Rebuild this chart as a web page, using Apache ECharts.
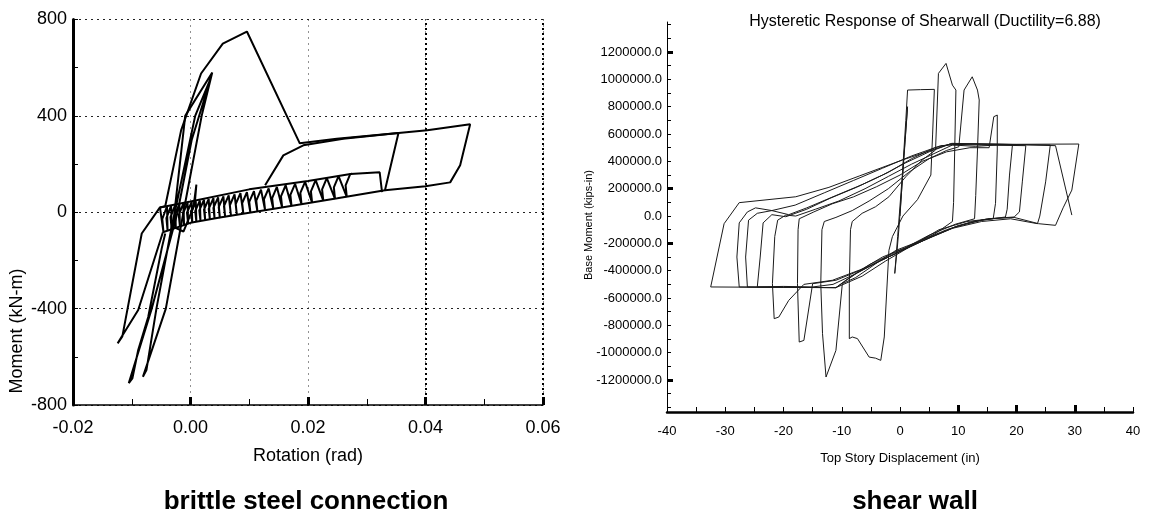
<!DOCTYPE html>
<html><head><meta charset="utf-8">
<script src="https://cdn.jsdelivr.net/npm/echarts@6/dist/echarts.min.js"></script>
<style>html,body{margin:0;padding:0;background:#fff}#c{width:1150px;height:526px}</style>
</head><body><div id="c"></div>
<script>
const FONT = 'Liberation Sans, Arial, sans-serif';

// ---------- Left chart: brittle steel connection (rotation rad, moment kN-m) ----------
const leftXTicks = [-0.02, 0.00, 0.02, 0.04, 0.06];
const leftYTicks = [-800, -400, 0, 400, 800];
const leftHeavyGrid = [0.04, 0.06];

const leftSteepLoops = [[0,0],[0.0007,30],[0.0010,115],[0.0005,20],[-0.0012,-80],[-0.0030,-60],
  [-0.0009,400],[0.0037,580],[0.0019,400],[-0.0012,0],[-0.0042,-400],[-0.0081,-683],[-0.0075,-655],
  [-0.0058,-400],[-0.0032,-60],[0.0008,400],[0.0035,560],[0.0002,300],[-0.0022,0],[-0.0066,-400],
  [-0.0105,-709],[-0.0099,-690],[-0.0089,-572],[-0.0072,-435],[-0.0049,-150],[-0.0043,-88]];

const leftPeakLoop = [[-0.0047,-83],[-0.0089,-406],[-0.0118,-520],[-0.0124,-544],[-0.0116,-515],
  [-0.0083,-88],[-0.0052,20],[-0.0043,25],[-0.0016,340],[0.0018,576],[0.0055,700],[0.0096,750],
  [0.0186,286],[0.0249,305],[0.0354,329],[0.0331,91],[0.0250,58],[0.0150,18],[0.0050,-22],
  [0.0000,-44],[-0.0047,-83]];

const leftBand = [[-0.0052,20],
  [-0.0046,-82],[-0.0048,-28],[-0.0040,25],
  [-0.0039,-76],[-0.0041,-24],[-0.0033,28],
  [-0.0032,-71],[-0.0034,-20],[-0.0026,31],
  [-0.0025,-65],[-0.0027,-16],[-0.0019,34],
  [-0.0018,-59],[-0.0020,-11],[-0.0012,37],
  [-0.0011,-53],[-0.0013,-7],[-0.0005,40],
  [-0.0004,-47],[-0.0006,-2],[0.0002,43],
  [0.0003,-43],[0.0001,2],[0.0009,46],
  [0.0010,-40],[0.0008,5],[0.0016,49],
  [0.0017,-37],[0.0015,8],[0.0023,52],
  [0.0025,-34],[0.0023,11],[0.0031,55],
  [0.0033,-31],[0.0031,14],[0.0039,59],
  [0.0041,-27],[0.0039,18],[0.0047,62],
  [0.0050,-24],[0.0048,21],[0.0056,66],
  [0.0059,-20],[0.0057,25],[0.0065,70],
  [0.0069,-16],[0.0067,29],[0.0075,74],
  [0.0079,-12],[0.0077,34],[0.0085,79],
  [0.0090,-7],[0.0088,38],[0.0096,83],
  [0.0102,-2],[0.0100,43],[0.0108,88],
  [0.0114,2],[0.0112,48],[0.0120,94],
  [0.0127,8],[0.0125,54],[0.0133,99],
  [0.0141,13],[0.0139,59],[0.0147,105],
  [0.0156,20],[0.0154,66],[0.0162,112],
  [0.0172,26],[0.0170,72],[0.0178,118],
  [0.0189,33],[0.0187,80],[0.0195,126],
  [0.0207,40],[0.0205,87],[0.0213,133],
  [0.0226,48],[0.0224,95],[0.0232,142],
  [0.0246,56],[0.0244,103],[0.0252,150],
  [0.0266,64],[0.0264,112],[0.0272,159],
  [0.0322,166],[0.0326,84]];

const leftBandTop = [[-0.0052,20],[0.0000,45],[0.0100,95],[0.0200,130],[0.0275,160]];

const leftBox = [[0.0127,112],[0.0158,236],[0.0192,278],[0.0260,305],[0.0354,329],[0.0403,340],
  [0.0476,365],[0.0459,195],[0.0442,124],[0.0400,108],[0.0331,91]];

// ---------- Right chart: shear wall (displacement in, moment kips-in) ----------
const rightYLabelValues = [-1200000,-1000000,-800000,-600000,-400000,-200000,0,200000,400000,600000,800000,1000000,1200000];
const rightYMinorTickValues = [-1400000,-1300000,-1200000,-1100000,-1000000,-900000,-800000,-700000,-600000,-500000,-400000,-300000,-200000,-100000,0,100000,200000,300000,400000,500000,600000,700000,800000,900000,1000000,1100000,1200000,1300000,1400000];
const rightYBoldTickValues = [-1200000,-200000,200000,1200000];
const rightXBoldTickValues = [10,20,30];

const rightCycle0 = [[0,0],[0.6,400000],[1.3,800000],[0.9,560000],[-0.2,-100000],[-0.5,-251000],
  [-0.9,-420000],[-0.4,-150000],[0.4,300000],[1.0,700000],[1.3,922000]];
const rightCycle1 = [[1.3,922000],[3.5,925000],[5.9,927000],[5.6,600000],[5.3,300000],[3.0,120000],
  [0.5,0],[-1.3,-150000],[-1.9,-251000],[-2.7,-885000],[-3.3,-1056000],[-4.2,-1040000],
  [-5.3,-1032000],[-7.3,-897000],[-8.2,-885000],[-8.7,-897000],[-8.7,-495000],[-8.5,-100000],[-8.2,-40000]];
const rightCycle2 = [[-8.2,-40000],[-6.5,20000],[-4.2,68000],[-1.9,141000],[1.0,288000],[3.8,410000],
  [6.1,483000],[6.6,1044000],[7.9,1117000],[9.0,958000],[9.6,922000],[9.4,500000],[9.2,100000],
  [9.0,-40000],[6.0,-130000],[3.0,-190000],[-0.7,-251000],[-4.2,-350000],[-7.6,-450000],
  [-9.9,-495000],[-11.0,-983000],[-12.7,-1178000],[-13.3,-861000],[-13.6,-495000],[-13.4,-100000],[-13.0,-40000]];
const rightCycle3 = [[-13.0,-40000],[-11.0,-10000],[-8.2,40000],[-5.3,110000],[-2.0,200000],[1.5,320000],
  [5.0,420000],[8.0,480000],[10.1,507000],[11.0,922000],[12.4,1019000],[13.3,922000],[13.6,849000],
  [13.3,483000],[13.0,150000],[12.8,-20000],[9.5,-60000],[5.0,-140000],[1.0,-230000],[-3.0,-300000],
  [-7.0,-400000],[-11.0,-470000],[-15.0,-495000],[-16.5,-910000],[-17.3,-922000],[-17.6,-495000],
  [-17.5,-100000],[-17.3,-20000]];
const rightCycle4 = [[-17.3,-20000],[-14.8,30000],[-11.6,90000],[-8.0,140000],[-4.0,215000],[0.0,300000],
  [3.8,400000],[8.0,470000],[12.0,500000],[15.3,500000],[16.1,727000],[16.7,739000],[16.7,483000],
  [16.4,93000],[16.0,-20000],[12.4,-40000],[8.0,-100000],[3.0,-190000],[-1.0,-280000],[-6.0,-380000],
  [-11.6,-470000],[-16.5,-500000],[-19.1,-617000],[-20.8,-739000],[-21.6,-751000],[-21.9,-495000],
  [-21.5,-150000],[-21.0,-30000]];
const rightCycle5 = [[-21.0,-30000],[-19.6,7000],[-17.9,0],[-14.5,50000],[-10.5,110000],[-6.0,200000],
  [-2.0,290000],[2.0,380000],[6.0,460000],[9.0,520000],[13.0,510000],[16.5,520000],[19.3,520000],
  [18.8,300000],[18.4,50000],[18.1,-7000],[14.0,-30000],[9.5,-80000],[5.0,-160000],[0.5,-250000],
  [-4.0,-340000],[-8.0,-430000],[-11.5,-500000],[-15.0,-519000],[-20.0,-515000],[-24.5,-519000],
  [-24.0,-300000],[-23.5,-50000]];
const rightCycle6 = [[-23.5,-50000],[-22.0,10000],[-19.6,-5000],[-16.0,50000],[-12.0,130000],[-7.5,210000],
  [-3.0,300000],[1.0,390000],[5.0,470000],[8.5,525000],[14.0,520000],[21.6,515000],[21.0,250000],
  [20.5,30000],[19.6,-7000],[15.0,-20000],[10.0,-70000],[5.5,-150000],[1.0,-240000],[-3.5,-330000],
  [-7.5,-420000],[-11.0,-524000],[-20.0,-520000],[-26.2,-519000],[-26.5,-300000],[-26.0,-30000]];
const rightCycle7 = [[-26.0,-30000],[-24.5,20000],[-22.0,40000],[-19.1,10000],[-16.0,60000],[-11.0,150000],
  [-6.5,230000],[-2.0,320000],[2.0,420000],[6.0,500000],[9.0,530000],[15.0,525000],[25.8,520000],
  [25.0,250000],[24.0,0],[23.6,-56000],[19.0,-20000],[14.0,-40000],[9.0,-90000],[4.0,-180000],
  [-0.5,-260000],[-5.0,-350000],[-9.0,-460000],[-11.0,-524000],[-20.0,-522000],[-27.6,-519000],
  [-28.0,-300000],[-27.6,-50000]];
const rightCycle8 = [[-27.6,-50000],[-26.2,30000],[-24.8,60000],[-22.0,40000],[-18.0,80000],[-13.0,170000],
  [-8.0,260000],[-3.0,350000],[2.0,440000],[7.0,515000],[12.0,528000],[20.0,525000],[30.7,527000],
  [29.5,190000],[28.0,60000],[26.7,-68000],[23.8,-56000],[19.6,-10000],[15.6,-20000],[11.5,-40000],
  [6.7,-100000],[1.5,-230000],[-2.5,-330000],[-6.5,-440000],[-11.0,-524000],[-20.0,-522000],[-32.5,-519000]];
const rightCycle9 = [[-32.5,-519000],[-30.2,-56000],[-27.6,98000],[-17.9,141000],[-12.2,210000],
  [-7.0,293000],[0.4,410000],[7.2,507000],[8.9,532000],[18.0,525000],[26.7,515000],[29.5,7000]];

const leftSets = [leftSteepLoops, leftPeakLoop, leftBand, leftBandTop, leftBox];
const rightSets = [rightCycle0, rightCycle1, rightCycle2, rightCycle3, rightCycle4, rightCycle5,
  rightCycle6, rightCycle7, rightCycle8, rightCycle9];

const chart = echarts.init(document.getElementById('c'), null, {renderer: 'canvas'});

const series = [];
leftSets.forEach((d, i) => {
  const s = {
    type: 'line', xAxisIndex: 0, yAxisIndex: 0, data: d, symbol: 'none', showSymbol: false,
    silent: true, animation: false, lineStyle: {color: '#000', width: 2}
  };
  if (i === 0) {
    s.markLine = {
      silent: true, symbol: 'none', label: {show: false},
      lineStyle: {color: '#000', width: 2, type: [2, 3]},
      data: leftHeavyGrid.map(v => ({xAxis: v}))
    };
  }
  series.push(s);
});
rightSets.forEach(d => {
  series.push({
    type: 'line', xAxisIndex: 1, yAxisIndex: 1, data: d, symbol: 'none', showSymbol: false,
    silent: true, animation: false, lineStyle: {color: '#1a1a1a', width: 1}
  });
});

const txt = (fs, extra) => Object.assign({fontSize: fs, color: '#000', fontFamily: FONT}, extra || {});

chart.setOption({
  animation: false,
  backgroundColor: '#fff',
  grid: [
    {left: 73, top: 19.5, width: 470, height: 385.5},
    {left: 667, top: 22, width: 466, height: 390}
  ],
  xAxis: [
    {
      gridIndex: 0, type: 'value', min: leftXTicks[0], max: leftXTicks[leftXTicks.length - 1], interval: 0.02,
      axisLine: {onZero: false, lineStyle: {color: '#000', width: 1.5}},
      axisTick: {inside: true, length: 8, lineStyle: {color: '#000', width: 3}},
      minorTick: {show: true, splitNumber: 2, length: 6, lineStyle: {color: '#000', width: 1}},
      axisLabel: txt(18, {formatter: v => v.toFixed(2), margin: 14}),
      splitLine: {show: true, lineStyle: {color: '#222', type: [1, 5], width: 1}},
      name: 'Rotation (rad)', nameLocation: 'middle', nameGap: 42, nameTextStyle: txt(18)
    },
    {
      gridIndex: 1, type: 'value', min: -40, max: 40, interval: 10,
      axisLine: {onZero: false, lineStyle: {color: '#000', width: 2.5}},
      axisTick: {inside: true, length: 5, lineStyle: {color: '#000', width: 1}},
      minorTick: {show: true, splitNumber: 2, length: 5, lineStyle: {color: '#000', width: 1}},
      axisLabel: txt(13, {margin: 13}),
      splitLine: {show: false},
      name: 'Top Story Displacement (in)', nameLocation: 'middle', nameGap: 40, nameTextStyle: txt(13)
    },
    {
      gridIndex: 1, type: 'value', min: -40, max: 40, interval: 10, position: 'bottom',
      axisLine: {show: false, onZero: false},
      axisTick: {inside: true, length: 7, customValues: rightXBoldTickValues, lineStyle: {color: '#000', width: 3}},
      axisLabel: {show: false}, splitLine: {show: false}
    }
  ],
  yAxis: [
    {
      gridIndex: 0, type: 'value', min: leftYTicks[0], max: leftYTicks[leftYTicks.length - 1], interval: 400,
      axisLine: {show: true, onZero: false, lineStyle: {color: '#000', width: 3}},
      axisTick: {inside: true, length: 5, lineStyle: {color: '#000', width: 1}},
      minorTick: {show: true, splitNumber: 2, length: 5, lineStyle: {color: '#000', width: 1}},
      axisLabel: txt(18, {margin: 6}),
      splitLine: {show: true, lineStyle: {color: '#222', type: [2, 4], width: 1}}
    },
    {
      gridIndex: 1, type: 'value', min: -1434000, max: 1420000, position: 'left',
      axisLine: {show: true, onZero: false, lineStyle: {color: '#000', width: 1}},
      axisTick: {inside: true, length: 4, customValues: rightYMinorTickValues, lineStyle: {color: '#000', width: 1}},
      axisLabel: txt(13, {customValues: rightYLabelValues, formatter: v => v.toFixed(1), margin: 5}),
      splitLine: {show: false}
    },
    {
      gridIndex: 1, type: 'value', min: -1434000, max: 1420000, position: 'left',
      axisLine: {show: false, onZero: false},
      axisTick: {inside: true, length: 6, customValues: rightYBoldTickValues, lineStyle: {color: '#000', width: 3}},
      axisLabel: {show: false}, splitLine: {show: false}
    }
  ],
  graphic: [
    {type: 'text', x: 17, y: 331, rotation: Math.PI / 2,
      style: {text: 'Moment (kN-m)', font: '18px ' + FONT, fill: '#000', textAlign: 'center', textVerticalAlign: 'middle'}},
    {type: 'text', x: 589, y: 225, rotation: Math.PI / 2,
      style: {text: 'Base Moment (kips-in)', font: '11px ' + FONT, fill: '#000', textAlign: 'center', textVerticalAlign: 'middle'}},
    {type: 'text', x: 925, y: 22,
      style: {text: 'Hysteretic Response of Shearwall (Ductility=6.88)', font: '16px ' + FONT, fill: '#000', textAlign: 'center', textVerticalAlign: 'middle'}},
    {type: 'text', x: 306, y: 502,
      style: {text: 'brittle steel connection', font: 'bold 26px ' + FONT, fill: '#000', textAlign: 'center', textVerticalAlign: 'middle'}},
    {type: 'text', x: 915, y: 502,
      style: {text: 'shear wall', font: 'bold 26px ' + FONT, fill: '#000', textAlign: 'center', textVerticalAlign: 'middle'}}
  ],
  series: series
});
</script>
</body></html>
